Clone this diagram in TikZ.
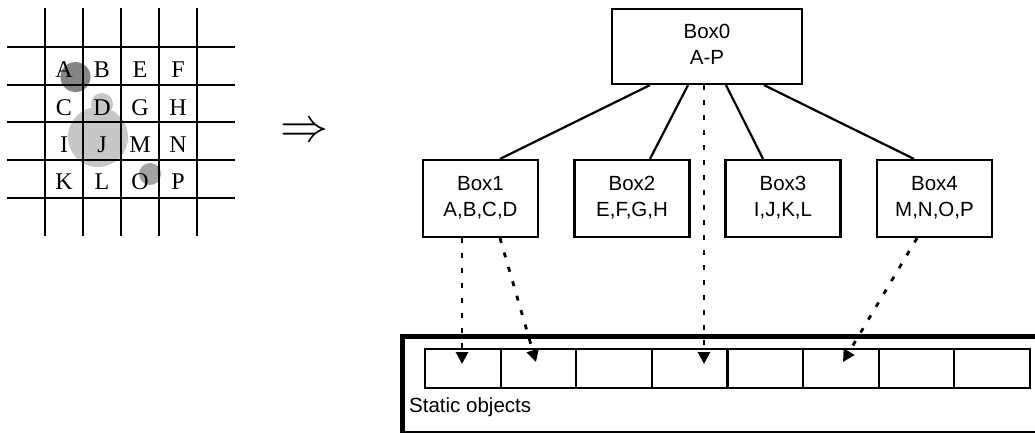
\documentclass[tikz,border=0pt]{standalone}
\usepackage{fontspec}
\usepackage{graphicx}
\setmainfont{Liberation Sans}
\newfontfamily\gridserif{Liberation Serif}
\usetikzlibrary{arrows.meta}
\definecolor{dkgray}{gray}{0.52}
\definecolor{ltgray}{gray}{0.78}
\definecolor{mdgray}{gray}{0.64}
\newcommand\bxfont{\fontsize{20.5}{26}\selectfont}
\newcommand\ltfont{\gridserif\fontsize{24}{24}\selectfont}
\newcommand\twoline[2]{\raisebox{5pt}{\begin{tabular}{@{}c@{}}#1\\#2\end{tabular}}}
\begin{document}
\begin{tikzpicture}[x=1pt,y=-1pt,
  gridline/.style={line width=2.4pt},
  letter/.style={font=\ltfont, inner sep=0pt, anchor=base},
  bbox/.style={draw, line width=2.2pt, minimum width=115pt, minimum height=77pt, inner sep=0pt, font=\bxfont},
  link/.style={line width=2.2pt},
  ptr/.style={line width=2.8pt, dash pattern=on 5pt off 10pt, -{Triangle[length=12pt,width=12pt]}},
  cell/.style={draw, line width=2.2pt, minimum width=75.6pt, minimum height=39pt, inner sep=0pt},
]
\clip (0,0) rectangle (1035,432);
% circles of the grid
\fill[dkgray] (75.5,77) circle (15);
\fill[ltgray] (98,137) circle (30);
\fill[ltgray] (102,104) circle (11);
\fill[mdgray] (150,174) circle (11);
% grid lines
\foreach \x in {45,83,121,159,197} \draw[gridline] (\x,8) -- (\x,236);
\foreach \y in {47,85,122,160,198} \draw[gridline] (7,\y) -- (235,\y);
% letters
\node[letter] (lA) at (64,77) {A};
\node[letter] (lB) at (102,77) {B};
\node[letter] (lE) at (140,77) {E};
\node[letter] (lF) at (178,77) {F};
\node[letter] (lC) at (64,115) {C};
\node[letter] (lD) at (102,115) {D};
\node[letter] (lG) at (140,115) {G};
\node[letter] (lH) at (178,115) {H};
\node[letter] (lI) at (64,152) {I};
\node[letter] (lJ) at (102,152) {J};
\node[letter] (lM) at (140,152) {M};
\node[letter] (lN) at (178,152) {N};
\node[letter] (lK) at (64,189.5) {K};
\node[letter] (lL) at (102,189.5) {L};
\node[letter] (lO) at (140,189.5) {O};
\node[letter] (lP) at (178,189.5) {P};
% implies arrow
\node[inner sep=0pt] (imp) at (304,133) {\resizebox{48pt}{!}{$\Rightarrow$}};
% tree
\node[bbox, minimum width=190pt, minimum height=75pt] (b0) at (707,46.5) {\twoline{Box0}{A-P}};
\node[bbox] (b1) at (480.5,198.5) {\twoline{Box1}{A,B,C,D}};
\node[bbox] (b2) at (632,198.5) {\twoline{Box2}{E,F,G,H}};
\node[bbox] (b3) at (783,198.5) {\twoline{Box3}{I,J,K,L}};
\node[bbox] (b4) at (934.5,198.5) {\twoline{Box4}{M,N,O,P}};
\draw[link] ([xshift=-57pt]b0.south) -- ([xshift=19.5pt]b1.north);
\draw[link] ([xshift=-19pt]b0.south) -- ([xshift=18pt]b2.north);
\draw[link] ([xshift=19pt]b0.south) -- ([xshift=-20pt]b3.north);
\draw[link] ([xshift=57pt]b0.south) -- ([xshift=-20.5pt]b4.north);
% static objects
\node[draw, line width=4.5pt, minimum width=660pt, minimum height=97pt, anchor=north west, inner sep=0pt] (frame) at (400,334) {};
\foreach \i in {1,...,8}
  \node[cell] (c\i) at ({425+75.6*(\i-0.5)},368.5) {};
\node[anchor=base west, font=\bxfont, inner sep=0pt] (lbl) at (409,412) {Static objects};
% pointers
\coordinate (t1) at (462,364);
\coordinate (t2) at (536,362);
\coordinate (t3) at (704,364);
\coordinate (t4) at (843,362);
\draw[ptr] ([xshift=-18.5pt]b1.south) -- (t1);
\draw[ptr] ([xshift=19.5pt]b1.south) -- (t2);
\draw[ptr] ([xshift=-3pt]b0.south) -- (t3);
\draw[ptr] ([xshift=-17.5pt]b4.south) -- (t4);
\end{tikzpicture}
\end{document}
